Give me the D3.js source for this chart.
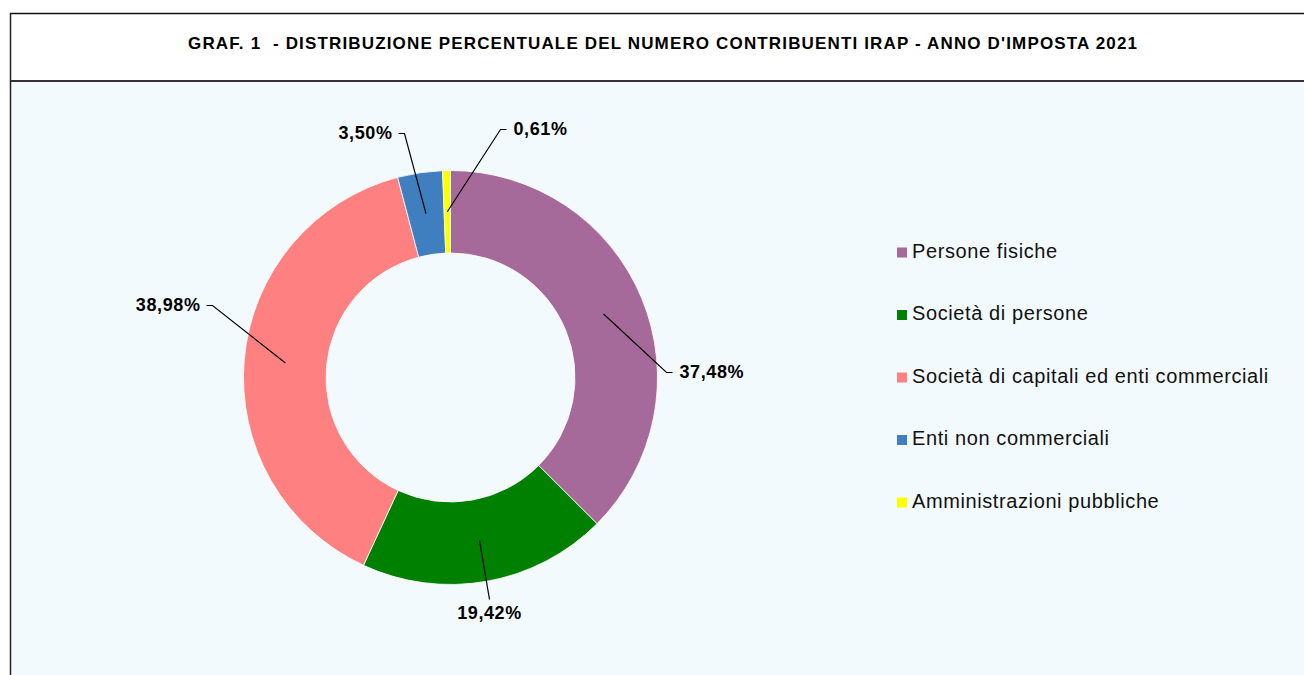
<!DOCTYPE html>
<html>
<head>
<meta charset="utf-8">
<script src="https://cdn.jsdelivr.net/npm/d3@7"></script>
<style>
  body { margin: 0; background: #fff; }
  text { font-family: "Liberation Sans", Arial, sans-serif; white-space: pre; }
</style>
</head>
<body>
<div class="chart"></div>
<script>
const categories = ["Persone fisiche", "Società di persone", "Società di capitali ed enti commerciali", "Enti non commerciali", "Amministrazioni pubbliche"];
const values = [37.48, 19.42, 38.98, 3.50, 0.61];
const colors = ["#A66A9A", "#008000", "#FF8080", "#3F7FBF", "#FFFF00"];
const title = "GRAF. 1  - DISTRIBUZIONE PERCENTUALE DEL NUMERO CONTRIBUENTI IRAP - ANNO D'IMPOSTA 2021";

// label elbow offsets from the centre, and which side the text sits on
const labelPos = [[216, -5, "right"], [39, 222, "below"], [-238, -72, "left"], [-46, -244, "left"], [50, -248, "right"]];

const width = 1304, height = 675;
const cx = 450.5, cy = 377.5, outerR = 207, innerR = 124.5;
const fmt = d => d3.format(".2f")(d).replace(".", ",") + "%";

const svg = d3.select(".chart").append("svg")
    .attr("width", width)
    .attr("height", height);

// frame
svg.append("rect").attr("x", 10).attr("y", 13).attr("width", width).attr("height", 68).attr("fill", "#fff");
svg.append("rect").attr("x", 10).attr("y", 81).attr("width", width).attr("height", height).attr("fill", "#F3FAFD");
svg.append("line").attr("x1", 10).attr("x2", width).attr("y1", 13.5).attr("y2", 13.5).attr("stroke", "#111").attr("stroke-width", 1.5);
svg.append("line").attr("x1", 10).attr("x2", width).attr("y1", 81).attr("y2", 81).attr("stroke", "#333").attr("stroke-width", 2);
svg.append("line").attr("x1", 10.5).attr("x2", 10.5).attr("y1", 13).attr("y2", height).attr("stroke", "#222").attr("stroke-width", 1.5);

svg.append("text")
    .attr("x", 662.5)
    .attr("y", 45)
    .attr("text-anchor", "middle")
    .attr("dominant-baseline", "middle")
    .attr("font-size", 17)
    .attr("font-weight", "bold")
    .attr("textLength", 949)
    .attr("lengthAdjust", "spacing")
    .text(title);

const data = categories.map((c, i) => ({name: c, value: values[i], color: colors[i]}));

const pie = d3.pie().sort(null).value(d => d.value);
const arc = d3.arc().innerRadius(innerR).outerRadius(outerR);
const mid = d3.arc().innerRadius((innerR + outerR) / 2).outerRadius((innerR + outerR) / 2);

const g = svg.append("g").attr("transform", `translate(${cx},${cy})`);
const arcs = pie(data);

g.selectAll(".slice")
    .data(arcs)
    .enter()
    .append("path")
    .attr("class", "slice")
    .attr("d", arc)
    .attr("fill", d => d.data.color)
    .attr("stroke", "#fff")
    .attr("stroke-width", 0.8);

arcs.forEach((d, i) => {
    const [sx, sy] = mid.centroid(d);
    const [ex, ey, side] = labelPos[i];
    let pts = [[sx, sy], [ex, ey]];
    let tx, ty, anchor;
    if (side === "right") {
        pts.push([ex + 6, ey]);
        tx = ex + 13; ty = ey + 1; anchor = "start";
    } else if (side === "left") {
        pts.push([ex - 6, ey]);
        tx = ex - 12; ty = ey + 1; anchor = "end";
    } else {
        tx = ex; ty = ey + 15; anchor = "middle";
    }
    g.append("path")
        .attr("d", d3.line()(pts))
        .attr("fill", "none")
        .attr("stroke", "#000")
        .attr("stroke-width", 1.2);
    g.append("text")
        .attr("x", tx)
        .attr("y", ty)
        .attr("text-anchor", anchor)
        .attr("dominant-baseline", "middle")
        .attr("font-size", 18)
        .attr("letter-spacing", 0.6)
        .attr("font-weight", "bold")
        .text(fmt(d.data.value));
});

const legend = svg.append("g");
legend.selectAll(".legend-color")
    .data(data)
    .enter()
    .append("rect")
    .attr("class", "legend-color")
    .attr("x", 897)
    .attr("y", (d, i) => 247.5 + i * 62.5)
    .attr("width", 10)
    .attr("height", 10)
    .attr("fill", d => d.color);

legend.selectAll(".legend-label")
    .data(data)
    .enter()
    .append("text")
    .attr("class", "legend-label")
    .attr("x", 912)
    .attr("y", (d, i) => 252.5 + i * 62.5)
    .attr("dominant-baseline", "middle")
    .attr("font-size", 20)
    .attr("letter-spacing", 0.6)
    .attr("fill", "#111")
    .text(d => d.name);
</script>
</body>
</html>
